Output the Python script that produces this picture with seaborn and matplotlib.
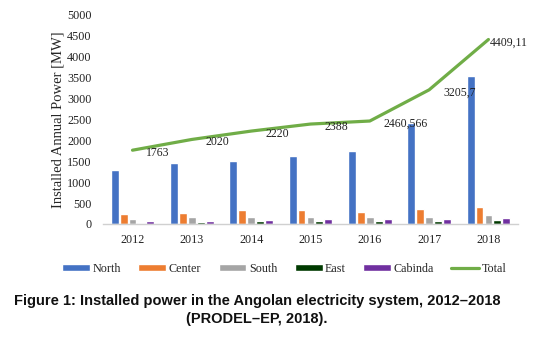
import numpy as np
import pandas as pd
import matplotlib
matplotlib.use("Agg")
import matplotlib.pyplot as plt
import seaborn as sns

years = ["2012", "2013", "2014", "2015", "2016", "2017", "2018"]
regions = ["North", "Center", "South", "East", "Cabinda"]
north = [1300, 1450, 1500, 1630, 1740, 2420, 3530]
center = [240, 250, 345, 345, 295, 350, 405]
south = [120, 175, 175, 175, 165, 175, 215]
east = [30, 50, 80, 80, 80, 80, 105]
cabinda = [80, 80, 95, 120, 120, 120, 145]
total = [1763, 2020, 2220, 2388, 2460.566, 3205.7, 4409.11]
total_labels = ["1763", "2020", "2220", "2388", "2460,566", "3205,7", "4409,11"]
colors = ["#4472C4", "#ED7D31", "#A5A5A5", "#003A00", "#7030A0"]
line_color = "#70AD47"

rows = []
for name, vals in zip(regions, [north, center, south, east, cabinda]):
    for y, v in zip(years, vals):
        rows.append({"Year": y, "Region": name, "Power": v})
df = pd.DataFrame(rows)

sns.set_theme(style="white")
plt.rcParams["font.family"] = ["Liberation Serif", "DejaVu Serif"]

fig = plt.figure(figsize=(5.5, 3.44), dpi=100)
ax = fig.add_axes([0.187, 0.349, 0.755, 0.608])

sns.barplot(data=df, x="Year", y="Power", hue="Region", palette=colors,
            width=0.75, gap=0.12, ax=ax, legend=True, saturation=1)
xpos = np.arange(len(years))
sns.lineplot(x=xpos, y=total, color=line_color, linewidth=2.3, ax=ax,
             label="Total")

for i, (v, lab) in enumerate(zip(total, total_labels)):
    if i == len(total) - 1:
        off = (1, -2)
    else:
        off = (10, -2)
    ax.annotate(lab, (xpos[i], v), xytext=off, textcoords="offset points",
                ha="left", va="center", fontsize=8.5, color="#222222")

ax.set_ylim(0, 5000)
ax.set_xlim(-0.5, len(years) - 0.5)
ax.set_yticks(np.arange(0, 5001, 500))
ax.set_xlabel("")
ax.set_ylabel("Installed Annual Power [MW]", fontsize=10.5, labelpad=2)
ax.tick_params(axis="both", length=0, labelsize=8.7, colors="#222222")
ax.tick_params(axis="y", pad=8)
ax.tick_params(axis="x", pad=7)
for s in ["top", "right", "left"]:
    ax.spines[s].set_visible(False)
ax.spines["bottom"].set_color("#D0D0D0")
ax.spines["bottom"].set_linewidth(1.0)

handles, labels = ax.get_legend_handles_labels()
ax.get_legend().remove()
fig.legend(handles, labels, loc="center", bbox_to_anchor=(0.517, 0.218),
           ncol=6, frameon=False, fontsize=8.7, handlelength=2.3,
           handleheight=0.45, handletextpad=0.2, columnspacing=1.45)

fig.text(0.467, 0.125, "Figure 1: Installed power in the Angolan electricity system, 2012\u20132018",
         ha="center", va="center", fontsize=10.5, fontweight="bold",
         family=["Liberation Sans", "DejaVu Sans"], color="#111111")
fig.text(0.467, 0.073, "(PRODEL\u2013EP, 2018).",
         ha="center", va="center", fontsize=10.5, fontweight="bold",
         family=["Liberation Sans", "DejaVu Sans"], color="#111111")

fig.savefig("out.png", dpi=100)
